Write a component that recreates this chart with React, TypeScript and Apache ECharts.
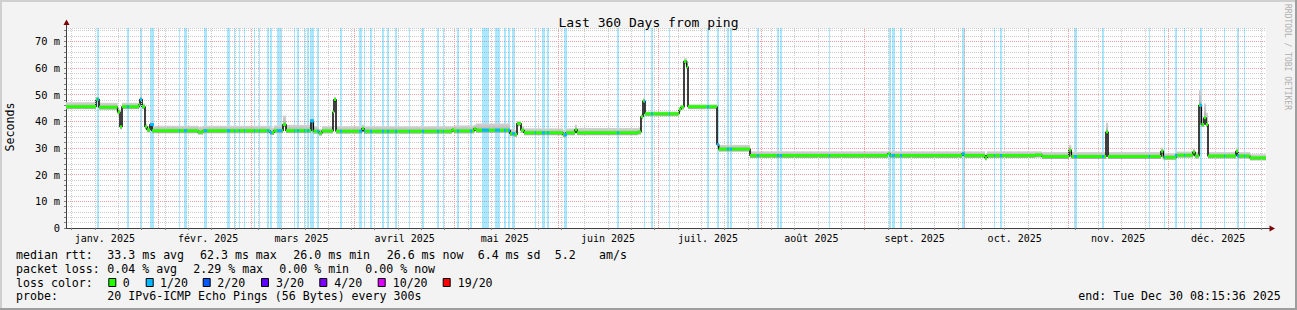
import React, { useEffect, useRef } from "react";
import * as echarts from "echarts";

// ---------- time frame ----------
const END_UTC = Date.UTC(2025, 11, 30, 7, 15, 36); // Tue Dec 30 08:15:36 2025 CET
const SPAN_DAYS = 360;

const monthNames = [
  "janv. 2025", "févr. 2025", "mars 2025", "avril 2025", "mai 2025", "juin 2025",
  "juil. 2025", "août 2025", "sept. 2025", "oct. 2025", "nov. 2025", "déc. 2025",
];

// ---------- median rtt (ms), as steps: value holds from stepDays[i] (days since start) ----------
const stepDays = [
  0, 9.0, 9.9, 15.5, 16.2, 16.8, 21.9, 22.2, 22.8, 23.7, 24.3, 25.2, 25.8, 39.6, 41.1,
  61.2, 62.4, 65.1, 66.0, 73.5, 74.2, 75.9, 76.8, 80.1, 80.4, 81.0, 88.8, 89.4, 115.8,
  116.4, 122.4, 123.0, 133.2, 134.4, 135.3, 136.5, 137.4, 149.1, 150.0, 152.7, 153.3,
  171.6, 172.5, 173.1, 173.7, 183.9, 184.5, 185.4, 186.2, 186.6, 195.3, 195.8, 205.2,
  246.6, 247.2, 268.8, 269.4, 275.7, 276.3, 290.7, 292.8, 300.9, 301.6, 312.0, 312.6,
  328.5, 329.2, 333.0, 338.1, 338.7, 339.9, 340.6, 341.4, 342.0, 342.6, 351.0, 351.6, 355.2,
];
const medianMs = [
  45.5, 48.3, 45.3, 43.5, 38.0, 45.5, 46.2, 48.3, 45.5, 38.0, 36.8, 38.8, 36.5, 36.0, 36.5,
  35.8, 36.5, 38.8, 36.5, 40.2, 36.3, 35.6, 36.4, 43.5, 48.2, 36.3, 37.3, 36.3, 36.8,
  36.4, 37.2, 36.7, 35.4, 35.1, 39.2, 36.7, 35.7, 35.0, 35.7, 36.8, 35.7,
  36.0, 41.7, 47.6, 42.8, 44.5, 45.4, 62.5, 60.5, 45.5, 31.3, 29.6, 27.2,
  27.8, 27.2, 27.8, 27.2, 26.3, 27.2, 27.4, 26.8, 29.2, 26.8, 36.0, 26.8,
  28.8, 26.5, 27.3, 28.5, 27.0, 46.0, 38.8, 41.3, 38.8, 27.0, 28.8, 27.0, 26.3,
];
// top of the smoke (ms) for each step
const smokeTopMs = [
  47.0, 49.0, 46.8, 44.5, 39.0, 46.8, 47.5, 49.5, 46.5, 39.0, 38.0, 40.0, 38.2, 37.8, 38.2,
  37.5, 38.3, 42.0, 38.5, 41.0, 38.0, 37.0, 38.0, 45.0, 49.0, 38.0, 38.5, 38.0, 38.0,
  38.3, 38.5, 39.0, 37.0, 36.5, 40.0, 38.0, 37.2, 36.5, 37.2, 38.5, 37.3,
  37.5, 42.5, 48.5, 43.5, 45.0, 46.0, 63.5, 61.5, 46.2, 32.0, 31.0, 28.6,
  28.8, 28.6, 28.8, 28.6, 27.5, 28.6, 28.6, 28.3, 31.0, 28.3, 39.3, 28.3,
  30.0, 27.8, 28.5, 29.5, 28.3, 51.6, 41.0, 46.5, 43.0, 28.3, 30.0, 28.3, 27.5,
];

// ---------- periods with 1/20 packet loss (days since start) ----------
const lossStartDays = [
  9.3, 18.3, 22.2, 25.2, 33.9, 35.4, 41.4, 48.3, 50.4, 51.9, 53.4, 56.4, 57.9, 60.3, 61.2,
  63.3, 68.4, 69.3, 71.4, 72.3, 73.2, 75.3, 82.2, 87.9, 89.4, 91.2, 94.8, 96.3, 98.7,
  102.9, 106.8, 111.3, 113.1, 117.3, 121.2, 124.8, 128.7, 131.4, 132.6, 133.8, 140.7,
  142.8, 144.3, 149.4, 165.3, 173.4, 175.5, 180.9, 192.3, 195.3, 198.3, 199.2, 207.3,
  213.3, 214.2, 228.9, 246.9, 247.8, 250.2, 268.8, 278.4, 280.2, 302.4, 310.8, 324.9,
  329.4, 332.7, 335.4, 340.2, 347.4, 351.3, 353.4,
];
const lossEndDays = [
  9.9, 18.9, 22.8, 26.4, 34.2, 36.3, 42.3, 49.2, 50.7, 52.2, 53.7, 56.7, 58.2, 60.9, 61.8,
  64.8, 68.7, 69.9, 71.7, 72.9, 74.4, 75.9, 82.8, 88.8, 89.7, 91.8, 95.4, 96.9, 99.3,
  103.2, 107.4, 111.9, 113.4, 117.9, 121.8, 126.9, 130.2, 132.0, 133.2, 134.7, 141.0,
  143.7, 144.9, 150.3, 165.9, 173.7, 176.1, 181.2, 192.9, 195.9, 198.9, 199.8, 207.9,
  213.9, 214.8, 229.2, 247.5, 248.7, 250.8, 269.7, 278.7, 280.8, 303.3, 311.4, 325.2,
  329.7, 333.3, 335.7, 340.8, 347.7, 351.9, 353.7,
];

// ---------- legend texts ----------
const rttStats = ["median rtt:", "33.3 ms avg", "62.3 ms max", "26.0 ms min", "26.6 ms now", "6.4 ms sd", "5.2", "am/s"];
const lossStats = ["packet loss:", "0.04 % avg", "2.29 % max", "0.00 % min", "0.00 % now"];
const lossClasses = ["0", "1/20", "2/20", "3/20", "4/20", "10/20", "19/20"];
const probeText = ["probe:", "20 IPv6-ICMP Echo Pings (56 Bytes) every 300s"];
const endText = "end: Tue Dec 30 08:15:36 2025";

// ---------- styles / layout ----------
const lossClassColors = ["#26ff00", "#00b8ff", "#0059ff", "#5e00ff", "#7e00ff", "#dd00ff", "#ff0000"];
const MONO = '"DejaVu Sans Mono", monospace';
const rttX = [16, 107.3, 200, 293.3, 386.7, 477.7, 554.7, 599];
const lossX = [16, 107.3, 193.3, 279.3, 365.3];
const boxX = [108.3, 145.7, 202.7, 261, 319.3, 377.7, 442.7];
const boxTextX = [122.7, 160, 217.3, 276, 334.3, 392.7, 457.7];

// ---------- derived ----------
const START_UTC = END_UTC - SPAN_DAYS * 86400000;
const isSummer = (m: number, d: number) => {
  const t = Date.UTC(2025, m, d);
  return t >= Date.UTC(2025, 2, 30) && t < Date.UTC(2025, 9, 26);
};
const localDay = (m: number, d: number) =>
  (Date.UTC(2025, m, d) - (isSummer(m, d) ? 2 : 1) * 3600000 - START_UTC) / 86400000;

const monthStartDays = Array.from({ length: 11 }, (_, i) => localDay(i + 1, 1));
const monthLabelDays = Array.from({ length: 12 }, (_, i) => localDay(i, 16));
const weekDays: number[] = [];
for (let k = 0; ; k++) {
  const d = localDay(0, 6 + 7 * k);
  if (d > SPAN_DAYS) break;
  weekDays.push(d);
}

const segData = stepDays.map((d, i) => [
  d,
  i + 1 < stepDays.length ? stepDays[i + 1] : SPAN_DAYS,
  medianMs[i],
  smokeTopMs[i],
]);
const medianAt = (day: number) => {
  let v = medianMs[0];
  for (let i = 0; i < stepDays.length; i++) if (stepDays[i] <= day) v = medianMs[i];
  return v;
};
const lossSegData = lossStartDays.map((s, i) => [s, lossEndDays[i], medianAt((s + lossEndDays[i]) / 2)]);
const lineData = [...stepDays.map((d, i) => [d, medianMs[i]]), [SPAN_DAYS, medianMs[medianMs.length - 1]]];

export default function App() {
  const ref = useRef<HTMLDivElement>(null);
  useEffect(() => {
    if (!ref.current) return;
    const chart = echarts.init(ref.current, undefined, { renderer: "svg" });

    const txt = (x: number, y: number, text: string, extra: any = {}) => ({
      type: "text",
      x,
      y,
      silent: true,
      style: {
        text,
        font: `11.6px ${MONO}`,
        fill: "#000",
        textAlign: "left",
        textVerticalAlign: "middle",
        align: "left",
        verticalAlign: "middle",
        ...extra,
      },
    });

    const graphics: any[] = [
      { type: "rect", shape: { x: 0, y: 0, width: 1297, height: 2 }, style: { fill: "#cfcfcf" }, silent: true },
      { type: "rect", shape: { x: 0, y: 0, width: 2, height: 310 }, style: { fill: "#cfcfcf" }, silent: true },
      { type: "rect", shape: { x: 0, y: 308, width: 1297, height: 2 }, style: { fill: "#9e9e9e" }, silent: true },
      { type: "rect", shape: { x: 1295, y: 0, width: 2, height: 310 }, style: { fill: "#9e9e9e" }, silent: true },
      // axis extensions and arrows
      { type: "line", shape: { x1: 66.5, y1: 28, x2: 66.5, y2: 23 }, style: { stroke: "#404040", lineWidth: 1 }, silent: true },
      { type: "line", shape: { x1: 1266, y1: 228.5, x2: 1270, y2: 228.5 }, style: { stroke: "#404040", lineWidth: 1 }, silent: true },
      { type: "polygon", shape: { points: [[66.5, 19.5], [63.5, 25], [69.5, 25]] }, style: { fill: "#7f0000" }, silent: true },
      { type: "polygon", shape: { points: [[1275, 228.5], [1269.5, 225.5], [1269.5, 231.5]] }, style: { fill: "#7f0000" }, silent: true },
      // unit label
      {
        type: "text", x: 10, y: 127, rotation: Math.PI / 2, silent: true,
        style: { text: "Seconds", font: `11.6px ${MONO}`, fill: "#000", textAlign: "center", textVerticalAlign: "middle", align: "center", verticalAlign: "middle" },
      },
      // watermark
      {
        type: "text", x: 1287, y: 4, rotation: -Math.PI / 2, silent: true,
        style: { text: "RRDTOOL / TOBI OETIKER", font: `8px ${MONO}`, fill: "#b0b0b0", textAlign: "left", textVerticalAlign: "middle", align: "left", verticalAlign: "middle" },
      },
    ];
    rttStats.forEach((t, i) => graphics.push(txt(rttX[i], 254.5, t)));
    lossStats.forEach((t, i) => graphics.push(txt(lossX[i], 268.5, t)));
    graphics.push(txt(16, 282.5, "loss color:"));
    lossClasses.forEach((t, i) => {
      graphics.push({
        type: "rect", silent: true,
        shape: { x: boxX[i] + 0.5, y: 278.5, width: 7, height: 8 },
        style: { fill: lossClassColors[i], stroke: "#000", lineWidth: 1 },
      });
      graphics.push(txt(boxTextX[i], 282.5, t));
    });
    graphics.push(txt(16, 296, probeText[0]));
    graphics.push(txt(107.3, 296, probeText[1]));
    graphics.push(txt(1078.3, 296, endText));

    const option: any = {
      animation: false,
      backgroundColor: "#f3f3f3",
      title: {
        text: "Last 360 Days from ping",
        left: "center",
        top: 11,
        textStyle: { fontFamily: MONO, fontSize: 13, fontWeight: "normal", color: "#000" },
      },
      grid: { left: 66, top: 28, width: 1200, height: 200, show: true, backgroundColor: "#ffffff", borderWidth: 0 },
      xAxis: {
        type: "value",
        min: 0,
        max: SPAN_DAYS,
        axisLine: { show: true, lineStyle: { color: "#404040", width: 1 } },
        axisTick: { show: true, customValues: weekDays, length: 2, lineStyle: { color: "#808080" } },
        axisLabel: {
          customValues: monthLabelDays,
          margin: 5,
          color: "#000",
          fontFamily: MONO,
          fontSize: 10,
          formatter: (v: number) => {
            const i = monthLabelDays.findIndex((d) => Math.abs(d - v) < 0.001);
            return i >= 0 ? monthNames[i] : "";
          },
        },
        splitLine: { show: false },
      },
      yAxis: {
        type: "value",
        min: 0,
        max: 75,
        interval: 2,
        axisLine: { show: true, lineStyle: { color: "#404040", width: 1 } },
        axisTick: { show: true, length: 2, lineStyle: { color: "#808080" } },
        axisLabel: {
          showMaxLabel: false,
          margin: 6,
          color: "#000",
          fontFamily: MONO,
          fontSize: 10.4,
          formatter: (v: number) => (v === 0 ? "0" : v % 10 === 0 && v < 75 ? `${v} m` : ""),
        },
        splitLine: {
          show: true,
          lineStyle: { color: ["#f0a0a0", "#cdcdcd", "#cdcdcd", "#cdcdcd", "#cdcdcd"], type: [1, 1], width: 1 },
        },
      },
      graphic: graphics,
      series: [
        {
          name: "lossbg",
          type: "line",
          z: 1,
          silent: true,
          data: [[0, 0], [SPAN_DAYS, 0]],
          showSymbol: false,
          lineStyle: { opacity: 0, width: 0 },
          markArea: {
            silent: true,
            itemStyle: { color: "rgba(0,184,255,0.33)" },
            data: lossStartDays.map((s, i) => [{ xAxis: s }, { xAxis: lossEndDays[i] }]),
          },
        },
        {
          name: "weekgrid",
          type: "line",
          z: 2,
          silent: true,
          data: [[0, 0], [SPAN_DAYS, 0]],
          showSymbol: false,
          lineStyle: { opacity: 0, width: 0 },
          markLine: {
            silent: true,
            symbol: ["none", "none"],
            label: { show: false },
            lineStyle: { color: "#cdcdcd", type: [1, 1], width: 1 },
            data: weekDays.map((d) => ({ xAxis: d })),
          },
        },
        {
          name: "monthgrid",
          type: "line",
          z: 2,
          silent: true,
          data: [[0, 0], [SPAN_DAYS, 0]],
          showSymbol: false,
          lineStyle: { opacity: 0, width: 0 },
          markLine: {
            silent: true,
            symbol: ["none", "none"],
            label: { show: false },
            lineStyle: { color: "#f0a0a0", type: [1, 1], width: 1 },
            data: monthStartDays.map((d) => ({ xAxis: d })),
          },
        },
        {
          name: "smoke",
          type: "custom",
          z: 3,
          silent: true,
          data: segData,
          encode: { x: [0, 1], y: [2, 3] },
          renderItem: (params: any, api: any) => {
            const a = api.coord([api.value(0), api.value(3)]);
            const b = api.coord([api.value(1), api.value(2)]);
            return {
              type: "rect",
              shape: { x: a[0], y: a[1] - 0.5, width: b[0] - a[0], height: b[1] - a[1] + 3 },
              style: {
                fill: new echarts.graphic.LinearGradient(0, 0, 0, 1, [
                  { offset: 0, color: "#d4d4d4" },
                  { offset: 1, color: "#a8a8a8" },
                ]),
              },
            };
          },
        },
        {
          name: "median",
          type: "line",
          z: 4,
          silent: true,
          step: "end",
          data: lineData,
          showSymbol: false,
          lineStyle: { color: "#000", width: 1.5 },
        },
        {
          name: "median0",
          type: "custom",
          z: 5,
          silent: true,
          data: segData,
          encode: { x: [0, 1], y: 2 },
          renderItem: (params: any, api: any) => {
            const a = api.coord([api.value(0), api.value(2)]);
            const b = api.coord([api.value(1), api.value(2)]);
            return {
              type: "line",
              shape: { x1: a[0], y1: a[1], x2: b[0], y2: b[1] },
              style: { stroke: "#26ff00", lineWidth: 3, lineCap: "butt" },
            };
          },
        },
        {
          name: "median1",
          type: "custom",
          z: 6,
          silent: true,
          data: lossSegData,
          encode: { x: [0, 1], y: 2 },
          renderItem: (params: any, api: any) => {
            const a = api.coord([api.value(0), api.value(2)]);
            const b = api.coord([api.value(1), api.value(2)]);
            return {
              type: "line",
              shape: { x1: a[0], y1: a[1], x2: b[0], y2: b[1] },
              style: { stroke: "#00b8ff", lineWidth: 3, lineCap: "butt" },
            };
          },
        },
      ],
    };
    chart.setOption(option);
    return () => chart.dispose();
  }, []);

  return <div ref={ref} style={{ position: "absolute", left: 0, top: 0, width: 1297, height: 310 }} />;
}
